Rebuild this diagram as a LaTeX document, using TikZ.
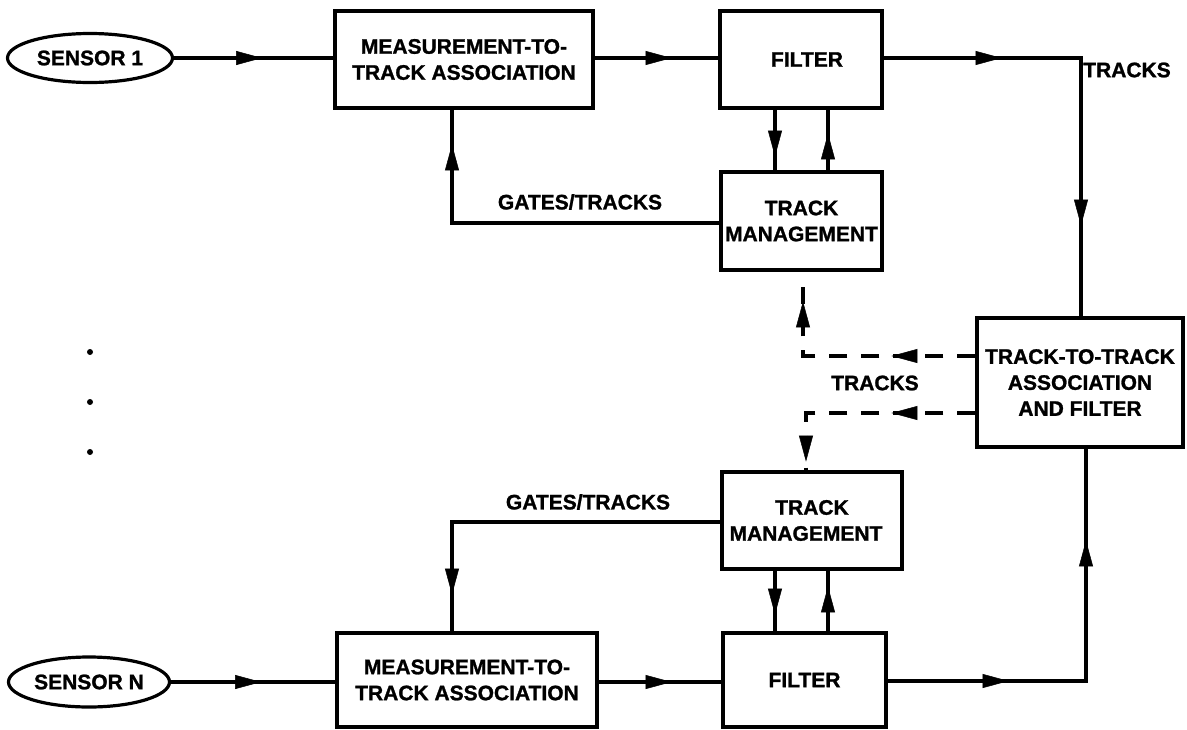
\documentclass[tikz,border=0pt]{standalone}
\usepackage{fontspec}
\setmainfont{Liberation Sans}[BoldFeatures={FakeBold=1.2}]
\usetikzlibrary{arrows.meta,decorations.markings,shapes.geometric}
\begin{document}
\begin{tikzpicture}[x=1pt,y=-1pt,
  every node/.style={font=\fontsize{21}{26}\selectfont\bfseries, inner sep=0pt},
  box/.style={draw, line width=3.2pt, rectangle, align=center},
  oval/.style={draw, line width=3.2pt, ellipse},
  conn/.style={line width=3.2pt},
  dconn/.style={line width=3.2pt, dash pattern=on 18pt off 14pt},
  tipat/.style={postaction={decorate,decoration={markings,mark=at position #1 with {\arrow[line width=0.5pt]{Triangle[length=26pt,width=14pt]}}}}},
]
\useasboundingbox (0,0) rectangle (1187,729);

% nodes
\node[oval, minimum width=165pt, minimum height=49pt] (s1) at (90,58) {SENSOR 1};
\node[oval, minimum width=161pt, minimum height=50pt] (sN) at (89,682) {SENSOR N};
\node[box, minimum width=258pt, minimum height=97pt] (mta1) at (464,59.5) {MEASUREMENT-TO-\\TRACK ASSOCIATION};
\node[box, minimum width=162pt, minimum height=97pt] (f1) at (801,59.5) {\hspace*{12pt}FILTER};
\node[box, minimum width=161pt, minimum height=98pt] (tm1) at (801.5,221) {TRACK\\MANAGEMENT};
\node[box, minimum width=206pt, minimum height=129pt] (ttt) at (1080,382.5) {TRACK-TO-TRACK\\ASSOCIATION\\AND FILTER};
\node[box, minimum width=180pt, minimum height=97pt] (tm2) at (812,520.5) {TRACK\\MANAGEMENT\hspace*{12pt}};
\node[box, minimum width=260pt, minimum height=94pt] (mta2) at (467,680) {MEASUREMENT-TO-\\TRACK ASSOCIATION};
\node[box, minimum width=163pt, minimum height=94pt] (f2) at (804.5,680) {FILTER};

% labels
\node (lt1) at (1127,70) {TRACKS};
\node (lg1) at (580,202) {GATES/TRACKS};
\node (lt2) at (875,383) {TRACKS};
\node (lg2) at (588,502) {GATES/TRACKS};

% helper coordinates
\coordinate (xa) at (775,0);
\coordinate (xb) at (828,0);
\coordinate (c1) at (1081,58);
\coordinate (g1) at (452,223);
\coordinate (d1) at (803,356);
\coordinate (d1e) at (803,287);
\coordinate (d2) at (806,413);
\coordinate (g2) at (452,522);
\coordinate (c2) at (1086,681);

% top chain
\draw[conn, tipat=88pt] (s1.east) -- (mta1.west |- s1.east);
\draw[conn, tipat=77pt] (mta1.east |- s1.east) -- (f1.west |- s1.east);
\draw[conn, tipat=118pt, tipat=365pt] (f1.east |- c1) -- (c1) -- (c1 |- ttt.north);
\draw[conn, tipat=47pt] (f1.south -| xa) -- (tm1.north -| xa);
\draw[conn, tipat=37pt] (tm1.north -| xb) -- (f1.south -| xb);
\draw[conn, tipat=346pt] (tm1.west |- g1) -- (g1) -- (g1 |- mta1.south);

% dashed feedback
\draw[dconn, tipat=84pt, tipat=227pt] (ttt.west |- d1) -- (d1) -- (d1e);
\draw[dconn, tipat=84pt, tipat=218pt] (ttt.west |- d2) -- (d2) -- (d2 |- tm2.north);

% bottom chain
\draw[conn, tipat=341pt] (tm2.west |- g2) -- (g2) -- (g2 |- mta2.north);
\draw[conn, tipat=90pt] (sN.east) -- (mta2.west |- sN.east);
\draw[conn, tipat=73pt] (mta2.east |- sN.east) -- (f2.west |- sN.east);
\draw[conn, tipat=44pt] (tm2.south -| xa) -- (f2.north -| xa);
\draw[conn, tipat=45pt] (f2.north -| xb) -- (tm2.south -| xb);
\draw[conn, tipat=121pt, tipat=339pt] (f2.east |- c2) -- (c2) -- (c2 |- ttt.south);

% vertical ellipsis
\fill (90,352) circle (3);
\fill (90,402) circle (3);
\fill (90,452) circle (3);
\end{tikzpicture}
\end{document}
